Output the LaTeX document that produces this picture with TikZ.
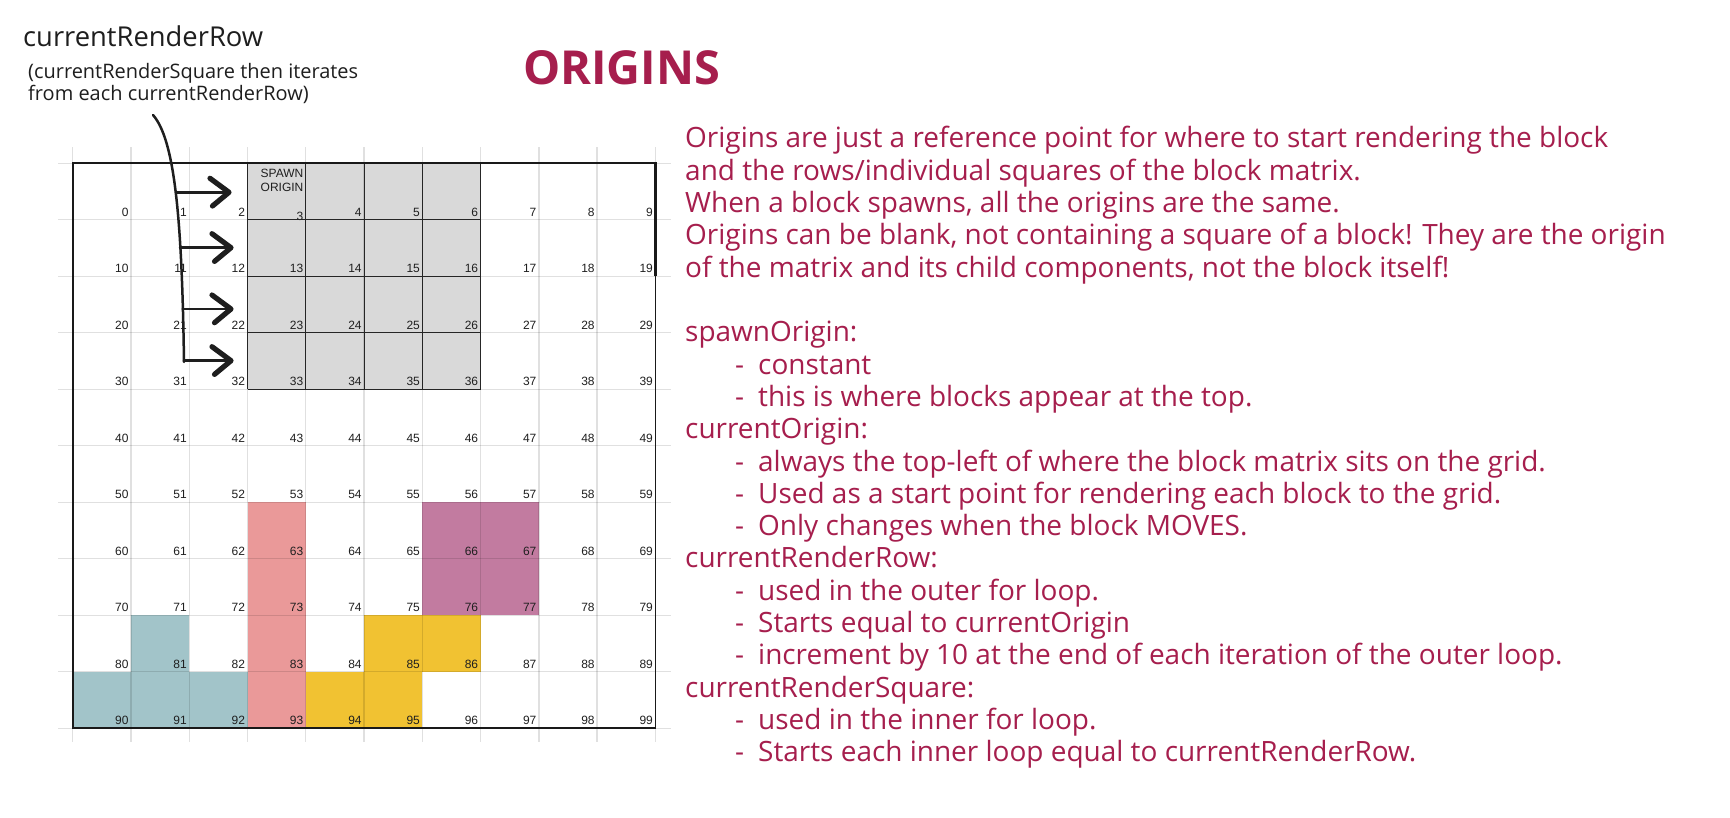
\documentclass[tikz,border=0pt]{standalone}
\usepackage{fontspec}
\newfontfamily\hand{Open Sans}
\newfontfamily\gridf{Liberation Sans}
\definecolor{ink}{HTML}{A61E4D}
\definecolor{pen}{HTML}{1E1E1E}
\definecolor{spawngray}{HTML}{D9D9D9}
\definecolor{blkteal}{HTML}{A2C4C9}
\definecolor{blkpink}{HTML}{EA9999}
\definecolor{blkpurple}{HTML}{C27BA0}
\definecolor{blkyellow}{HTML}{F1C232}
\def\gx{72.8}
\def\gy{163.3}
\def\cw{58.26}
\def\rh{56.49}
\newlength\wref
\newcommand\fitsz[3]{\settowidth\wref{\hand\fontsize{10pt}{12pt}\selectfont #3}\pgfmathsetmacro\tmpsz{10*#2/\wref}\global\let#1\tmpsz}
\newcommand\fitszb[3]{\settowidth\wref{\hand\bfseries\fontsize{10pt}{12pt}\selectfont #3}\pgfmathsetmacro\tmpsz{10*#2/\wref}\global\let#1\tmpsz}
\AtBeginDocument{%
\fitsz\bsz{923}{Origins are just a reference point for where to start rendering the block}%
\fitsz\hsz{240}{currentRenderRow}%
\fitsz\ssz{330}{(currentRenderSquare then iterates}%
\fitszb\tsz{197}{ORIGINS}%
}
\newcommand\cellfill[2]{\pgfmathtruncatemacro\cc{mod(#2,10)}\pgfmathtruncatemacro\rr{div(#2,10)}\fill[#1] ({\gx+\cc*\cw},{\gy+\rr*\rh}) rectangle ++(\cw,\rh);}
\begin{document}
\begin{tikzpicture}[x=1pt,y=-1pt,
  gridline/.style={draw=black,draw opacity=0.12,line width=1.3},
  num/.style={anchor=base east,inner sep=0pt,font=\gridf\fontsize{12}{14}\selectfont,text=black!88},
  shaft/.style={draw=pen,line width=2.5,line cap=round},
  chevron/.style={draw=pen,line width=5.2,line cap=round,line join=round},
  body/.style={anchor=base west,inner sep=0pt,font=\hand\fontsize{\bsz}{\bsz}\selectfont,text=ink}]
\useasboundingbox (0,0) rectangle (1730,818);
\fill[white] (0,0) rectangle (1730,818);
% cell fills
\foreach \n in {3,4,5,6,13,14,15,16,23,24,25,26,33,34,35,36}{\cellfill{spawngray}{\n}}
\foreach \n in {81,90,91,92}{\cellfill{blkteal}{\n}}
\foreach \n in {63,73,83,93}{\cellfill{blkpink}{\n}}
\foreach \n in {66,67,76,77}{\cellfill{blkpurple}{\n}}
\foreach \n in {85,86,94,95}{\cellfill{blkyellow}{\n}}
% light spreadsheet grid
\foreach \i in {0,...,10}{
  \draw[gridline] ({\gx+\i*\cw},147) -- ({\gx+\i*\cw},742);
  \draw[gridline] (58,{\gy+\i*\rh}) -- (671,{\gy+\i*\rh});
}
% cell numbers
\foreach \n in {0,...,99}{
  \pgfmathtruncatemacro\cc{mod(\n,10)}
  \pgfmathtruncatemacro\rr{div(\n,10)}
  \ifnum\n=3 \def\dy{0.8}\else\def\dy{-3.5}\fi
  \node[num] (n\n) at ({\gx+(\cc+1)*\cw-2.3},{\gy+(\rr+1)*\rh+\dy}) {\n};
}
\node[num] (spawn) at ({\gx+4*\cw-2.3},177.3) {SPAWN};
\node[num] (origin) at ({\gx+4*\cw-2.3},191.7) {ORIGIN};
% spawn block cell borders
\foreach \i in {3,...,7}{\draw[black!85,line width=1] ({\gx+\i*\cw},\gy) -- ({\gx+\i*\cw},{\gy+4*\rh});}
\foreach \j in {0,...,4}{\draw[black!85,line width=1] ({\gx+3*\cw},{\gy+\j*\rh}) -- ({\gx+7*\cw},{\gy+\j*\rh});}
% outer border: thick, except the lower part of the right side
\draw[black!90,line width=1.6] ({\gx+10*\cw},{\gy+2*\rh}) -- ({\gx+10*\cw},{\gy+10*\rh});
\draw[black!90,line width=2.4,line join=miter] ({\gx+10*\cw},{\gy+2*\rh}) -- ({\gx+10*\cw},\gy) -- (\gx,\gy) -- (\gx,{\gy+10*\rh}) -- ({\gx+10*\cw+0.8},{\gy+10*\rh});
% hand-drawn curve and arrows
\coordinate (cstart) at (153,115);
\coordinate (cend) at (184,362);
\draw[shaft] (cstart) .. controls (175,140) and (182,220) .. (cend);
\coordinate (s1) at (176,192.3);   \coordinate (e1) at (229,192.3);
\coordinate (s2) at (180,247.7);   \coordinate (e2) at (231,247.7);
\coordinate (s3) at (182.5,309);   \coordinate (e3) at (231,309);
\coordinate (s4) at (184,360.7);   \coordinate (e4) at (231,360.7);
\foreach \k in {1,2,3,4}{
  \draw[shaft] (s\k) -- (e\k);
  \draw[chevron] ([shift={(-19,-14)}]e\k) -- (e\k) -- ([shift={(-16.5,13.7)}]e\k);
}
% header text (left)
\node[anchor=base west,inner sep=0pt,font=\hand\fontsize{\hsz}{\hsz}\selectfont,text=pen] (hdr) at (23,46.7) {currentRenderRow};
\node[anchor=base west,inner sep=0pt,font=\hand\fontsize{\ssz}{\ssz}\selectfont,text=pen] (sub1) at (28,78.3) {(currentRenderSquare then iterates};
\node[anchor=base west,inner sep=0pt,font=\hand\fontsize{\ssz}{\ssz}\selectfont,text=pen] (sub2) at (28,100.3) {from each currentRenderRow)};
% title
\node[anchor=base west,inner sep=0pt,font=\hand\bfseries\fontsize{\tsz}{\tsz}\selectfont,text=ink] (title) at (523,85) {ORIGINS};
% explanatory text
\node[body] (t0) at (685,148.0) {Origins are just a reference point for where to start rendering the block};
\node[body] (t1) at (685,180.3) {and the rows/individual squares of the block matrix.};
\node[body] (t2) at (685,212.6) {When a block spawns, all the origins are the same.};
\node[body] (t3) at (685,244.9) {Origins can be blank, not containing a square of a block! They are the origin};
\node[body] (t4) at (685,277.2) {of the matrix and its child components, not the block itself!};
\node[body] (t6) at (685,341.8) {spawnOrigin:};
\node[body] (t7) at (735,374.1) {\makebox[23pt][l]{-}constant};
\node[body] (t8) at (735,406.4) {\makebox[23pt][l]{-}this is where blocks appear at the top.};
\node[body] (t9) at (685,438.7) {currentOrigin:};
\node[body] (t10) at (735,471.0) {\makebox[23pt][l]{-}always the top-left of where the block matrix sits on the grid.};
\node[body] (t11) at (735,503.3) {\makebox[23pt][l]{-}Used as a start point for rendering each block to the grid.};
\node[body] (t12) at (735,535.6) {\makebox[23pt][l]{-}Only changes when the block MOVES.};
\node[body] (t13) at (685,567.9) {currentRenderRow:};
\node[body] (t14) at (735,600.2) {\makebox[23pt][l]{-}used in the outer for loop.};
\node[body] (t15) at (735,632.5) {\makebox[23pt][l]{-}Starts equal to currentOrigin};
\node[body] (t16) at (735,664.8) {\makebox[23pt][l]{-}increment by 10 at the end of each iteration of the outer loop.};
\node[body] (t17) at (685,697.1) {currentRenderSquare:};
\node[body] (t18) at (735,729.4) {\makebox[23pt][l]{-}used in the inner for loop.};
\node[body] (t19) at (735,761.7) {\makebox[23pt][l]{-}Starts each inner loop equal to currentRenderRow.};
\end{tikzpicture}
\end{document}
